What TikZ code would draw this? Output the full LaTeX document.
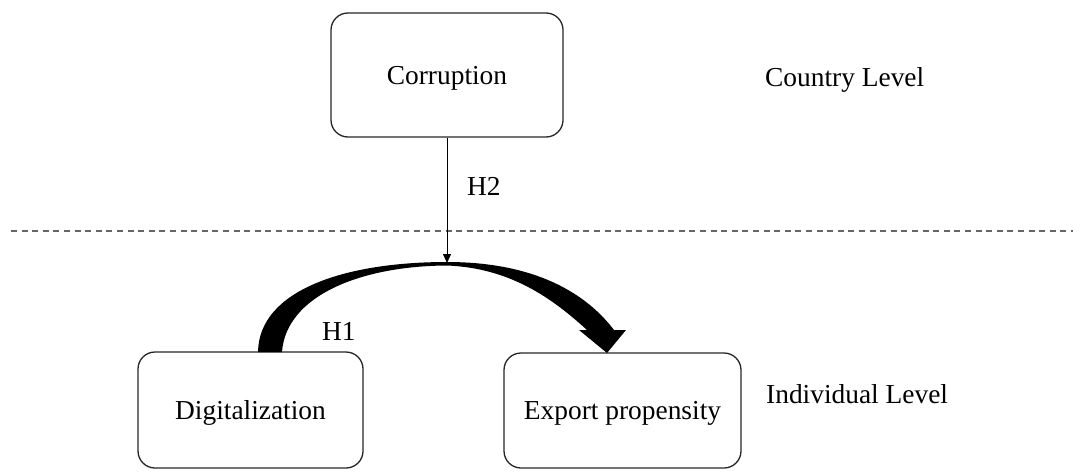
\documentclass[tikz,border=0pt]{standalone}
\usepackage{fontspec}
\setmainfont{Liberation Serif}
\usetikzlibrary{arrows.meta}
\begin{document}
\begin{tikzpicture}[x=1pt,y=-1pt,
  box/.style={draw=black!85, line width=1.3pt, rounded corners=17pt, inner sep=0pt, align=center, text depth=0pt},
  lbl/.style={inner sep=0pt, anchor=west},
  every node/.style={font=\fontsize{27.4}{32}\selectfont}]
\useasboundingbox (0,0) rectangle (1073,471);
% boxes
\node[box, minimum width=232pt, minimum height=124pt] (corr) at (447,75) {Corruption};
\node[box, minimum width=225pt, minimum height=116pt] (dig) at (250.5,410) {Digitalization};
\node[box, minimum width=237pt, minimum height=115pt] (exp) at (622.5,410.5) {Export propensity};
% level labels
\node[lbl] (country) at (765,80) {Country Level};
\node[lbl] (indiv) at (766,394) {Individual Level};
% dashed separator
\coordinate (dl) at (11,231);
\coordinate (dr) at (1073,231);
\draw[black!60, line width=1.6pt, dash pattern=on 6pt off 4.6pt] (dl) -- (dr);
% moderation arrow
\coordinate (peak) at (447,263);
\draw[line width=1pt, -{Triangle[width=8pt,length=9pt]}] (corr.south -| peak) -- (peak);
\node[lbl] (h2) at (467,186) {H2};
% thick curved arrow
\fill[black] (258,352) .. controls (259,290) and (345,262) .. (447,262)
  .. controls (527,262) and (582,288) .. (614,330)
  -- (626,330) -- (607,353) -- (579,330) -- (587,330)
  .. controls (552,298) and (510,268) .. (447,265.5)
  .. controls (360,266) and (286,296) .. (282,352) -- cycle;
\node[lbl] (h1) at (322,331) {H1};
\end{tikzpicture}
\end{document}
